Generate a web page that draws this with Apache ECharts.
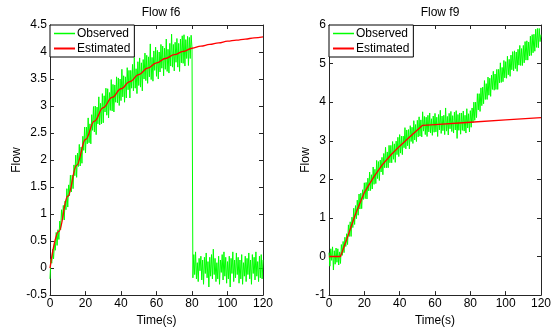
<!DOCTYPE html>
<html>
<head>
<meta charset="utf-8">
<script src="https://cdn.jsdelivr.net/npm/echarts@6/dist/echarts.min.js"></script>
<style>html,body{margin:0;padding:0;background:#fff}#c{width:557px;height:332px}</style>
</head>
<body>
<div id="c"></div>
<script>
// ---- data ----
const sampleStep = 0.5; // seconds between observed samples (0..120)
const xTicks = [0, 20, 40, 60, 80, 100, 120];

const f6Observed = [
-0.2,0.17,0.09,0.35,0.17,0.46,0.33,0.66,0.42,0.71,
0.53,0.87,0.71,1.08,0.89,1.16,0.89,1.24,1.08,1.47,
1.13,1.54,1.34,1.72,1.41,1.72,1.47,1.91,1.71,2.09,
1.68,2.13,1.88,2.29,1.89,2.24,1.94,2.44,2.18,2.61,
2.13,2.61,2.3,2.78,2.32,2.67,2.3,2.84,2.55,2.99,
2.52,3.0,2.47,2.98,2.67,3.17,2.65,3.05,2.67,3.23,
2.69,3.19,2.89,3.33,2.83,3.32,2.78,3.25,2.92,3.49,
2.91,3.4,2.89,3.39,3.07,3.54,3.06,3.52,3.01,3.5,
3.1,3.68,3.17,3.56,3.07,3.54,3.15,3.71,3.3,3.66,
3.15,3.66,3.33,3.77,3.28,3.9,3.33,3.69,3.23,3.82,
3.38,3.89,3.35,3.8,3.28,3.86,3.5,3.98,3.47,3.94,
3.42,3.91,3.54,4.15,3.49,3.9,3.46,4.02,3.66,4.09,
3.55,4.03,3.5,4.0,3.63,4.14,3.7,4.11,3.56,4.07,
3.68,4.24,3.64,4.05,3.61,4.16,3.74,4.33,3.72,4.14,
3.65,4.18,3.81,4.25,3.72,4.16,3.64,4.24,3.8,4.3,
3.79,4.32,3.74,4.23,3.88,4.29,3.75,4.27,3.88,4.31,
4.08,
-0.18,0.25,-0.12,0.3,-0.2,0.1,-0.25,0.18,-0.05,0.22,
-0.22,0.15,-0.3,0.2,-0.1,0.28,-0.18,0.12,-0.35,0.2,
-0.15,0.25,-0.2,0.35,-0.12,0.18,-0.25,0.1,-0.2,0.22,
-0.3,0.15,-0.08,0.25,-0.22,0.3,-0.15,0.2,-0.28,0.12,
-0.2,0.22,-0.35,0.18,-0.1,0.3,-0.25,0.15,-0.18,0.28,
-0.12,0.2,-0.28,0.15,-0.2,0.25,-0.3,0.1,-0.15,0.22,
-0.25,0.18,-0.12,0.28,-0.2,0.15,-0.3,0.25,-0.1,0.2,
-0.22,0.3,-0.15,0.12,-0.25,0.22,-0.18,0.25,-0.2,0.15
];
const f6EstT = [0,5,10,15,20,25,30,35,40,45,50,55,60,65,70,75,80,85,90,95,100,105,110,115,120];
const f6EstV = [0,0.68,1.33,1.9,2.38,2.72,2.97,3.16,3.32,3.45,3.58,3.7,3.8,3.88,3.95,4.01,4.07,4.11,4.14,4.17,4.2,4.22,4.24,4.26,4.28];

const f9Observed = [
0.1,-0.25,0.2,-0.1,0.25,-0.35,0.15,-0.2,0.22,-0.15,
0.2,-0.22,0.12,-0.18,0.31,0.03,0.39,0.1,0.5,0.26,
0.59,0.31,0.82,0.52,0.9,0.52,1.02,0.75,1.25,0.83,
1.32,0.98,1.46,1.07,1.62,1.23,1.64,1.24,1.73,1.48,
1.91,1.5,1.92,1.49,2.03,1.7,2.19,1.71,2.12,1.75,
2.32,1.87,2.26,1.89,2.49,2.02,2.46,1.97,2.5,2.19,
2.57,2.12,2.67,2.3,2.83,2.3,2.71,2.3,2.88,2.43,
2.88,2.43,2.98,2.52,2.92,2.44,2.99,2.64,3.09,2.59,
3.16,2.68,3.12,2.64,3.12,2.82,3.34,2.79,3.28,2.87,
3.29,2.79,3.39,2.98,3.35,2.93,3.52,3.02,3.42,2.98,
3.53,3.1,3.62,3.12,3.54,3.1,3.75,3.25,3.63,3.16,
3.61,3.11,3.66,3.23,3.72,3.2,3.57,3.14,3.64,3.22,
3.71,3.23,3.61,3.11,3.68,3.28,3.79,3.19,3.64,3.26,
3.66,3.16,3.85,3.25,3.63,3.15,3.71,3.31,3.76,3.24,
3.65,3.2,3.74,3.28,3.78,3.06,3.68,3.27,3.72,3.17,
3.72,3.27,3.77,3.25,3.66,3.2,3.83,3.33,3.7,3.23,
3.78,3.35,3.85,3.47,4.0,3.53,4.0,3.6,4.22,3.8,
4.22,3.76,4.37,3.91,4.39,3.96,4.56,4.07,4.48,4.07,
4.65,4.18,4.62,4.15,4.7,4.33,4.8,4.31,4.73,4.33,
4.85,4.33,4.85,4.5,5.02,4.51,4.9,4.53,5.08,4.63,
5.05,4.62,5.19,4.71,5.11,4.67,5.22,4.84,5.31,4.81,
5.33,4.87,5.3,4.8,5.37,4.96,5.47,4.95,5.39,4.95,
5.47,5.02,5.57,5.09,5.59,5.09,5.56,5.2,5.71,5.21,
5.75,5.28,5.76,5.32,5.89,5.42,5.91,5.41,5.91,5.57,
5.75
];
const f9EstT = [0,6.5,10,15,20,25,30,35,40,45,50,53,60,80,100,120];
const f9EstV = [0,0,0.44,1.1,1.66,2.04,2.37,2.63,2.86,3.07,3.28,3.4,3.42,3.48,3.54,3.6];

// ---- build ----
const pairs = (vals) => vals.map((v, i) => [i * sampleStep, v]);
const zip = (ts, vs) => ts.map((t, i) => [t, vs[i]]);

const FONT = 'Liberation Sans, Arial, sans-serif';
const AX = '#262626';
const grids = [
  {left: 50, top: 25, width: 213, height: 275},
  {left: 329, top: 25, width: 212, height: 275}
];
const yRanges = [{min: -0.5, max: 4.5, interval: 0.5}, {min: -1, max: 6, interval: 1}];

function xAx(g, pos, labels) {
  return {
    type: 'value', gridIndex: g, position: pos, min: 0, max: 120, interval: 20,
    axisLine: {show: true, onZero: false, lineStyle: {color: AX, width: 1}},
    axisTick: {show: true, inside: true, length: 4, lineStyle: {color: AX}},
    axisLabel: {show: labels, color: '#000', fontSize: 12, fontFamily: FONT, margin: 3},
    splitLine: {show: false},
    name: labels ? 'Time(s)' : '', nameLocation: 'middle', nameGap: 16,
    nameTextStyle: {color: '#000', fontSize: 12, fontFamily: FONT}
  };
}
function yAx(g, pos, labels) {
  const r = yRanges[g];
  return {
    type: 'value', gridIndex: g, position: pos, min: r.min, max: r.max, interval: r.interval,
    axisLine: {show: true, onZero: false, lineStyle: {color: AX, width: 1}},
    axisTick: {show: true, inside: true, length: 4, lineStyle: {color: AX}},
    axisLabel: {show: labels, color: '#000', fontSize: 12, fontFamily: FONT, margin: 3},
    splitLine: {show: false},
    name: labels ? 'Flow' : '', nameLocation: 'middle', nameGap: g === 0 ? 21 : 17,
    nameTextStyle: {color: '#000', fontSize: 12, fontFamily: FONT}
  };
}

const legendBase = (g) => ({
  orient: 'vertical', left: grids[g].left, top: grids[g].top,
  backgroundColor: '#fff', borderColor: '#000', borderWidth: 1,
  padding: [2, 4, 2, 4], itemGap: 2, itemWidth: 21, itemHeight: 13,
  textStyle: {color: '#000', fontSize: 12, fontFamily: FONT, padding: [0, 0, 0, -3], lineHeight: 13},
  data: [
    {name: 'Observed', icon: 'path://M0,0H21V1.5H0Z', itemStyle: {color: '#00ff00', borderWidth: 0}},
    {name: 'Estimated', icon: 'path://M0,0H21V2H0Z', itemStyle: {color: '#ff0000', borderWidth: 0}}
  ]
});

const option = {
  animation: false,
  backgroundColor: '#fff',
  title: [
    {text: 'Flow f6', left: 156, top: 2, textAlign: 'center', textStyle: {color: '#000', fontSize: 12, fontWeight: 'normal', fontFamily: FONT}},
    {text: 'Flow f9', left: 435, top: 2, textAlign: 'center', textStyle: {color: '#000', fontSize: 12, fontWeight: 'normal', fontFamily: FONT}}
  ],
  grid: grids,
  legend: [legendBase(0), legendBase(1)],
  xAxis: [xAx(0, 'bottom', true), xAx(0, 'top', false), xAx(1, 'bottom', true), xAx(1, 'top', false)],
  yAxis: [yAx(0, 'left', true), yAx(0, 'right', false), yAx(1, 'left', true), yAx(1, 'right', false)],
  series: [
    {name: 'Observed', type: 'line', xAxisIndex: 0, yAxisIndex: 0, data: pairs(f6Observed), symbol: 'none', lineStyle: {color: '#00ff00', width: 1}, itemStyle: {color: '#00ff00'}},
    {name: 'Estimated', type: 'line', xAxisIndex: 0, yAxisIndex: 0, data: zip(f6EstT, f6EstV), smooth: 0.4, smoothMonotone: 'x', symbol: 'none', lineStyle: {color: '#ff0000', width: 1.3}, itemStyle: {color: '#ff0000'}},
    {name: 'Observed', type: 'line', xAxisIndex: 2, yAxisIndex: 2, data: pairs(f9Observed), symbol: 'none', lineStyle: {color: '#00ff00', width: 1}, itemStyle: {color: '#00ff00'}},
    {name: 'Estimated', type: 'line', xAxisIndex: 2, yAxisIndex: 2, data: zip(f9EstT, f9EstV), symbol: 'none', lineStyle: {color: '#ff0000', width: 1.3}, itemStyle: {color: '#ff0000'}}
  ]
};

const chart = echarts.init(document.getElementById('c'), null, {renderer: 'canvas'});
chart.setOption(option);
</script>
</body>
</html>
